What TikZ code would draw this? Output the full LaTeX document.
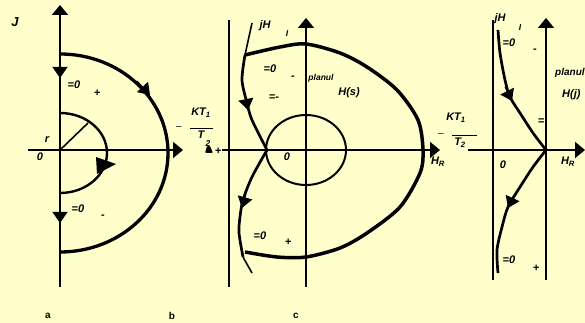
\documentclass[tikz,border=0pt]{standalone}
\usepackage{fontspec}
\setmainfont{Liberation Sans}
\usetikzlibrary{arrows.meta}
\definecolor{paper}{RGB}{255,255,204}

\begin{document}
\begin{tikzpicture}[x=1pt,y=1pt,
    axis/.style={line width=1.8pt},
    axtip/.style={-{Triangle[length=10pt,width=16pt]}},
    midtip/.style={line width=1pt,-{Triangle[length=11pt,width=15pt]}},
    lbl/.style={font=\bfseries\itshape\fontsize{11}{13}\selectfont,inner sep=0pt},
    sml/.style={font=\bfseries\itshape\fontsize{8.5}{10}\selectfont,inner sep=0pt},
    tag/.style={font=\bfseries\fontsize{10}{12}\selectfont,inner sep=0pt}]
    \fill[paper] (0,0) rectangle (585,323);
    \useasboundingbox (0,0) rectangle (585,323);

    \begin{scope}[shift={(60,173)}]
    \draw[axis,axtip] (0,-137)--(0,145);
    \draw[axis,axtip] (-32,0)--(123,0);
    \draw[line width=3.3pt] (0,96) arc[start angle=90,end angle=-90,x radius=108,y radius=99];
    \draw[line width=2.4pt] (0,37) arc[start angle=90,end angle=-90,x radius=47,y radius=40];
    \draw[line width=1.6pt] (0,0)--(28,27);
    \draw[midtip] (0,86)--(0,72);
    \draw[midtip] (0,-59)--(0,-73);
    \draw[midtip] (77,69)--(90,55);
    \fill (36,-7)--(56,-14)--(37,-24)--cycle;
    \node[lbl,font=\bfseries\itshape\fontsize{13}{15}\selectfont] (Ja) at (-45,128) {J};
    \node[lbl] (zeroa1) at (14,65) {=0};
    \node[lbl] (plusa) at (37,57) {+};
    \node[lbl] (ra) at (-13,10) {r};
    \node[lbl] (origa) at (-20,-7) {0};
    \node[lbl] (zeroa2) at (18,-59) {=0};
    \node[lbl] (minusa) at (43,-67) {-};
    \node[tag] (taga) at (-12,-166) {a};
    \node[tag] (tagb) at (112,-166) {b};
    \node[lbl,font=\normalfont] (negf1) at (119,22) {--};
    \node[lbl] (numf1) at (141,37) {KT\textsubscript{1}};
    \draw[line width=0.6pt] (130,22)--(153,22);
    \node[lbl] (denf1) at (141,15) {T};
    \node[sml] (subf1) at (148,6) {2};
    \fill[rounded corners=1pt] (145,-3)--(153,-3)--(150,4)--(147,4)--cycle;
    \node[lbl] (plusf1) at (158,-1) {+};
    \end{scope}

    \begin{scope}[shift={(306,173)}]
    \draw[axis] (-77,130)--(-77,-137);
    \draw[axis,axtip] (0,-137)--(0,132);
    \draw[axis,axtip] (-84,0)--(134,0);
    \draw[line width=2pt] (0,0) ellipse[x radius=40,y radius=35];
    \draw[line width=3.5pt] plot[smooth] coordinates {(-61,95) (-26,103) (0,106) (34,97) (61,83) (91,60) (112,30) (117,0) (114,-23) (94,-57) (61,-83) (34,-98) (0,-107) (-29,-107) (-61,-102)};
    \draw[line width=1.6pt] plot[smooth] coordinates {(-54,127) (-61,95)};
    \draw[line width=2.7pt] plot[smooth] coordinates {(-61,95) (-64,70) (-59,47) (-54,30) (-39,0)};
    \draw[line width=2.7pt] plot[smooth] coordinates {(-39,0) (-54,-27) (-63,-50) (-66,-67) (-67,-83) (-63,-107)};
    \draw[line width=1.6pt] plot[smooth] coordinates {(-63,-107) (-54,-123)};
    \draw[midtip] (-61,55)--(-58,40);
    \draw[midtip] (-60,-44)--(-64,-58);
    \node[lbl] (jHc) at (-41,124) {jH};
    \node[sml] (Ic) at (-19,116) {I};
    \node[lbl] (zeroc1) at (-36,81) {=0};
    \node[lbl] (minusc) at (-13,72) {-};
    \node[sml] (planc) at (15,72) {planul};
    \node[lbl] (Hsc) at (43,57) {H(s)};
    \node[lbl] (eqc) at (-32,52) {=-};
    \node[lbl] (origc) at (-19,-7) {0};
    \node[lbl] (zeroc2) at (-46,-86) {=0};
    \node[lbl] (plusc) at (-18,-92) {+};
    \node[tag] (tagc) at (-10,-166) {c};
    \node[lbl] (HRc) at (132,-12) {H\textsubscript{R}};
    \end{scope}

    \begin{scope}[shift={(546,173)}]
    \draw[axis] (-53,130)--(-53,-130);
    \draw[axis,axtip] (0,-130)--(0,132);
    \draw[axis,axtip] (-78,0)--(39,0);
    \draw[line width=2.7pt] plot[smooth] coordinates {(-48,120) (-46,97) (-41,70) (-36,53) (-26,37) (-13,17) (0,0)};
    \draw[line width=2.7pt] plot[smooth] coordinates {(0,0) (-13,-17) (-26,-37) (-38,-57) (-44,-77) (-49,-100) (-48,-123)};
    \draw[midtip] (-41,63)--(-34,49);
    \draw[midtip] (-32,-45)--(-38,-58);
    \node[lbl] (jHd) at (-46,131) {jH};
    \node[sml] (Id) at (-26,122) {I};
    \node[lbl] (zerod1) at (-37,107) {=0};
    \node[lbl] (minusd) at (-11,99) {-};
    \node[lbl,font=\bfseries\itshape\fontsize{10}{12}\selectfont,anchor=west] (pland) at (9,77) {planul};
    \node[lbl,anchor=west] (Hjd) at (16,55) {H(j)};
    \node[lbl] (eqd) at (-5,28) {=};
    \node[lbl] (origd) at (-43,-15) {0};
    \node[lbl] (zerod2) at (-37,-110) {=0};
    \node[lbl] (plusd) at (-10,-118) {+};
    \node[lbl] (HRd) at (22,-12) {H\textsubscript{R}};
    \node[lbl,font=\normalfont] (negf2) at (-105,15) {--};
    \node[lbl] (numf2) at (-90,32) {KT\textsubscript{1}};
    \draw[line width=0.6pt] (-94,15)--(-69,15);
    \node[lbl] (denf2) at (-86,7) {T\textsubscript{2}};
    \end{scope}
\end{tikzpicture}
\end{document}
